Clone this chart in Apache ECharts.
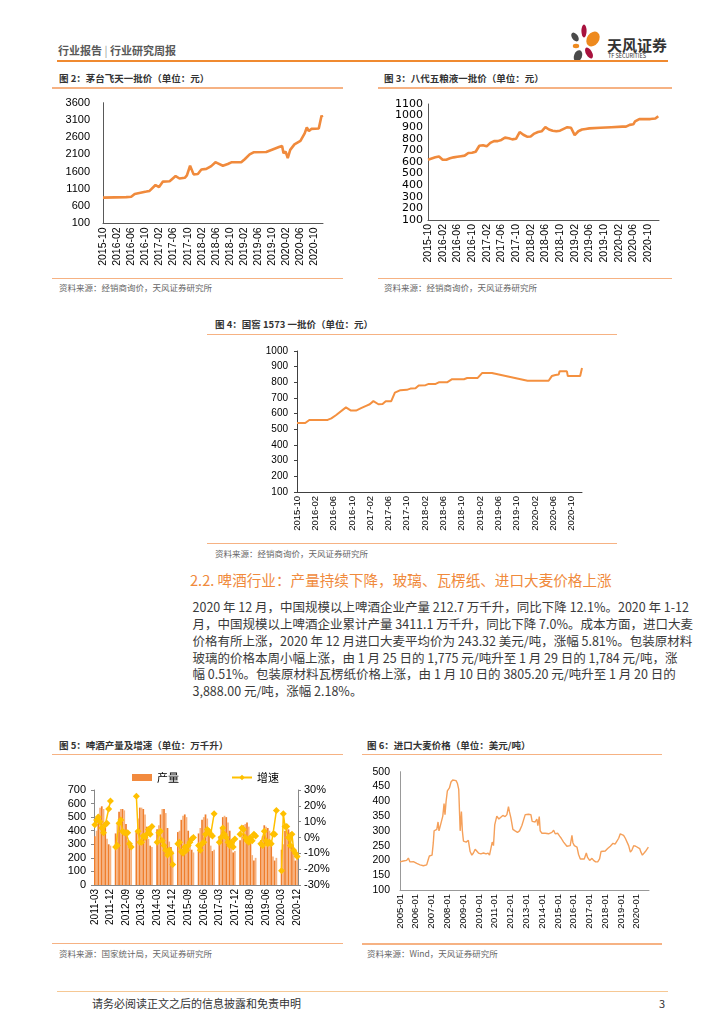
<!DOCTYPE html>
<html><head><meta charset="utf-8">
<script src="https://cdn.jsdelivr.net/npm/echarts@6/dist/echarts.min.js"></script>
<style>
html,body{margin:0;padding:0;background:#fff;}
body{width:724px;height:1024px;position:relative;overflow:hidden;font-family:"Noto Sans CJK SC","Liberation Sans",sans-serif;}
.t{position:absolute;white-space:nowrap;}
.title{position:absolute;font-size:9.5px;line-height:12px;font-weight:bold;color:#333;white-space:nowrap;}
.rule{position:absolute;height:1.5px;background:#F6B283;}
.src{position:absolute;font-size:8.5px;line-height:11px;color:#666;white-space:nowrap;}
.chart{position:absolute;}
.para{position:absolute;left:192.5px;top:599.3px;width:473px;font-size:12.5px;color:#3a3a3a;}
.para div{height:16.8px;line-height:16.8px;text-align:justify;text-align-last:justify;white-space:nowrap;overflow:visible;}
.para div.last{text-align-last:left;}
</style></head>
<body>
<!-- header -->
<div class="t" style="left:58px;top:43px;font-size:11px;line-height:14px;color:#595959;font-weight:bold;">行业报告 <span style="font-weight:normal;color:#999;">|</span> 行业研究周报</div>
<svg class="t" style="left:569px;top:24px;" width="36" height="40" viewBox="0 0 36 40">
  <ellipse cx="15" cy="7" rx="2.6" ry="6.5" fill="#A8123E"/>
  <ellipse cx="6" cy="13" rx="3" ry="5" fill="#4A4A4A" transform="rotate(-35 6 13)"/>
  <ellipse cx="24" cy="15" rx="6" ry="8" fill="#EE8A1E" transform="rotate(35 24 15)"/>
  <ellipse cx="7" cy="22" rx="3.2" ry="2.2" fill="#EE8A1E"/>
  <ellipse cx="9" cy="32" rx="4" ry="6" fill="#4A4A4A" transform="rotate(20 9 32)"/>
  <ellipse cx="20" cy="29" rx="3" ry="6" fill="#A8123E" transform="rotate(-30 20 29)"/>
</svg>
<div class="t" style="left:607px;top:36px;font-size:15px;line-height:18px;font-weight:bold;color:#333;">天风证券</div>
<div class="t" style="left:608px;top:53px;font-size:5.5px;line-height:7px;color:#333;">TF SECURITIES</div>
<div class="rule" style="left:57px;top:60px;width:611px;background:#F08A30;"></div>

<!-- chart 2 -->
<div class="title" style="left:59px;top:72px;">图 2：茅台飞天一批价（单位：元）</div>
<div class="rule" style="left:52px;top:87px;width:291px;"></div>
<div id="c2" class="chart" style="left:52px;top:89px;width:291px;height:188px;"></div>
<div class="rule" style="left:52px;top:277.5px;width:291px;"></div>
<div class="src" style="left:59px;top:281.5px;">资料来源：经销商询价，天风证券研究所</div>

<!-- chart 3 -->
<div class="title" style="left:384px;top:72px;">图 3：八代五粮液一批价（单位：元）</div>
<div class="rule" style="left:378px;top:87px;width:294px;"></div>
<div id="c3" class="chart" style="left:378px;top:89px;width:294px;height:188px;"></div>
<div class="rule" style="left:378px;top:277.5px;width:294px;"></div>
<div class="src" style="left:384px;top:281.5px;">资料来源：经销商询价，天风证券研究所</div>

<!-- chart 4 -->
<div class="title" style="left:215px;top:318px;">图 4：国窖 1573 一批价（单位：元）</div>
<div class="rule" style="left:207px;top:333.5px;width:410px;"></div>
<div id="c4" class="chart" style="left:207px;top:336px;width:410px;height:206px;"></div>
<div class="rule" style="left:207px;top:542.5px;width:410px;"></div>
<div class="src" style="left:215px;top:547.5px;">资料来源：经销商询价，天风证券研究所</div>

<!-- text -->
<div class="t" style="left:190px;top:570px;font-size:14.6px;line-height:20px;color:#F08A3C;">2.2. 啤酒行业：产量持续下降，玻璃、瓦楞纸、进口大麦价格上涨</div>
<div class="para">
<div>2020 年 12 月，中国规模以上啤酒企业产量 212.7 万千升，同比下降 12.1%。2020 年 1-12</div>
<div>月，中国规模以上啤酒企业累计产量 3411.1 万千升，同比下降 7.0%。成本方面，进口大麦</div>
<div>价格有所上涨，2020 年 12 月进口大麦平均价为 243.32 美元/吨，涨幅 5.81%。包装原材料</div>
<div>玻璃的价格本周小幅上涨，由 1 月 25 日的 1,775 元/吨升至 1 月 29 日的 1,784 元/吨，涨</div>
<div>幅 0.51%。包装原材料瓦楞纸价格上涨，由 1 月 10 日的 3805.20 元/吨升至 1 月 20 日的</div>
<div class="last">3,888.00 元/吨，涨幅 2.18%。</div>
</div>

<!-- chart 5 -->
<div class="title" style="left:59px;top:739px;">图 5：啤酒产量及增速（单位：万千升）</div>
<div class="rule" style="left:52px;top:753.5px;width:291px;"></div>
<div id="c5" class="chart" style="left:52px;top:756px;width:291px;height:186px;"></div>
<div class="rule" style="left:52px;top:942.5px;width:291px;"></div>
<div class="src" style="left:59px;top:947.5px;">资料来源：国家统计局，天风证券研究所</div>

<!-- chart 6 -->
<div class="title" style="left:367px;top:739px;">图 6：进口大麦价格（单位：美元/吨）</div>
<div class="rule" style="left:362px;top:753.5px;width:300px;"></div>
<div id="c6" class="chart" style="left:362px;top:756px;width:300px;height:187px;"></div>
<div class="rule" style="left:362px;top:943px;width:300px;"></div>
<div class="src" style="left:367px;top:947.5px;">资料来源：Wind，天风证券研究所</div>

<!-- footer -->
<div class="rule" style="left:57px;top:990.5px;width:611px;background:#F6C894;"></div>
<div class="t" style="left:92px;top:996px;font-size:11px;line-height:14px;color:#333;">请务必阅读正文之后的信息披露和免责申明</div>
<div class="t" style="left:659px;top:996px;font-size:11px;line-height:14px;color:#333;">3</div>

<script>
// ---------- data ----------
// 图2 茅台飞天一批价
const maotaiDates = ['2015-10-01','2016-04-19','2016-06-01','2016-07-01','2016-10-10','2016-11-07','2016-12-28','2017-01-28','2017-03-01','2017-04-28','2017-05-25','2017-06-19','2017-07-22','2017-09-07','2017-09-25','2017-10-22','2017-11-22','2017-12-28','2018-01-28','2018-03-10','2018-04-22','2018-05-28','2018-06-19','2018-08-01','2018-09-13','2018-10-13','2019-01-07','2019-02-07','2019-03-19','2019-04-22','2019-08-10','2019-12-04','2019-12-25','2020-01-07','2020-01-25','2020-02-13','2020-03-04','2020-04-10','2020-06-01','2020-07-07','2020-07-25','2020-08-13','2020-09-04','2020-11-07','2020-11-19','2020-12-01','2020-12-07'];
const maotaiPrice = [845,860,870,950,1020,1040,1210,1150,1310,1320,1400,1470,1400,1420,1490,1770,1520,1530,1660,1680,1760,1870,1840,1770,1820,1870,1870,1960,2100,2160,2170,2320,2340,2130,2180,1990,2230,2390,2490,2710,2880,2780,2840,2850,2830,3230,3180];

// 图3 八代五粮液一批价
const wlyDates = ['2015-10','2015-11','2015-12','2016-01','2016-02','2016-03','2016-04','2016-05','2016-06','2016-07','2016-08','2016-09','2016-10','2016-11','2016-12','2017-01','2017-02','2017-03','2017-04','2017-05','2017-06','2017-07','2017-08','2017-09','2017-10','2017-11','2017-12','2018-01','2018-02','2018-03','2018-04','2018-05','2018-06','2018-07','2018-08','2018-09','2018-10','2018-11','2018-12','2019-01','2019-02','2019-03','2019-04','2019-05','2019-06','2019-09','2019-12','2020-03','2020-04','2020-05','2020-06','2020-06-15','2020-07','2020-07-20','2020-10','2020-10-10','2020-10-20','2020-12','2020-12-25'];
const wlyPrice = [620,630,640,648,620,620,632,640,645,650,655,678,680,688,740,745,735,765,780,780,790,810,805,795,800,858,835,818,820,845,858,865,900,880,870,865,870,885,900,895,832,865,880,885,890,895,900,905,905,920,925,950,950,970,970,958,970,975,995];

// 图4 国窖1573一批价
const gjDates = ['2015-10-01','2015-11-25','2015-12-22','2016-04-22','2016-05-16','2016-06-16','2016-08-22','2016-09-25','2016-10-28','2016-12-01','2017-01-04','2017-01-28','2017-02-22','2017-03-25','2017-04-22','2017-05-13','2017-06-19','2017-07-13','2017-08-19','2017-10-01','2017-10-25','2017-11-28','2017-12-19','2018-02-04','2018-02-25','2018-04-10','2018-05-01','2018-06-25','2018-07-28','2018-10-16','2018-11-07','2019-01-16','2019-02-16','2019-04-19','2019-12-13','2020-05-01','2020-05-22','2020-06-16','2020-07-07','2020-07-13','2020-09-01','2020-09-07','2020-11-28','2020-12-10'];
const gjPrice = [540,540,560,560,570,590,640,620,620,635,650,660,680,660,662,680,680,734,750,752,760,762,780,782,790,790,800,800,820,820,828,828,860,860,810,810,840,847,850,870,870,840,840,892];

// 图5 啤酒产量及增速（1、2月无单月数据）
const beerMonths = [];
for (let y = 2011; y <= 2020; y++) for (let m = 1; m <= 12; m++) { if (y === 2011 && m < 3) continue; beerMonths.push(y + '-' + String(m).padStart(2, '0')); }
const beerTickLabels = ['2011-03','2011-12','2012-09','2013-06','2014-03','2014-12','2015-09','2016-06','2017-03','2017-12','2018-09','2019-06','2020-03','2020-12'];
const beerOutput = [
  360,400,520,570,580,560,440,340,300,290,
  null,null,380,450,540,560,560,550,450,330,290,270,
  null,null,400,490,570,570,560,520,430,340,290,280,
  null,null,410,440,520,560,560,530,420,320,280,250,
  null,null,390,400,480,510,520,500,400,300,260,240,
  null,null,380,420,480,500,520,490,370,290,250,260,
  null,null,360,420,500,510,500,460,400,290,240,250,
  null,null,330,380,440,450,460,430,340,220,180,200,
  null,null,330,360,440,430,420,400,300,210,180,200,
  null,null,260,300,400,420,410,390,300,230,180,213
];
const beerGrowth = [
  8,11,13,10,6,3,8,9,18,23,
  null,null,-6,-5,9,11,4,3,3,3,-4,-6,
  null,null,26,4,-3,-3,1,0,2,5,2,7,
  null,null,-3,3,4,-2,-5,-8,-11,-8,-10,-17,
  null,null,-4,-3,-9,-10,-6,-8,-5,-3,-1,0,
  null,null,-5,-8,-4,-3,2,5,4,2,1,15,
  null,null,-3,0,6,2,0,-3,-5,-3,-6,-1,
  null,null,2,6,5,0,-2,-3,0,-2,2,1,
  null,null,-4,-5,4,-2,-4,-3,-4,2,2,17,
  null,null,-21,15,7,7,0,-5,2,-8,-10,-12
];

// 图6 进口大麦价格（时间：年份小数）
const barleyTime = [2005.00,2005.21,2005.42,2005.53,2005.63,2005.85,2006.06,2006.27,2006.48,2006.59,2006.69,2006.80,2006.86,2006.95,2007.03,2007.11,2007.16,2007.24,2007.33,2007.41,2007.47,2007.58,2007.71,2007.79,2007.85,2007.92,2008.00,2008.13,2008.23,2008.34,2008.45,2008.55,2008.64,2008.72,2008.81,2008.89,2008.95,2009.02,2009.19,2009.33,2009.44,2009.55,2009.65,2009.76,2009.86,2009.97,2010.12,2010.29,2010.45,2010.58,2010.67,2010.75,2010.84,2010.92,2011.00,2011.13,2011.26,2011.34,2011.51,2011.66,2011.77,2011.87,2011.93,2012.02,2012.15,2012.29,2012.44,2012.57,2012.72,2012.82,2012.93,2013.14,2013.29,2013.37,2013.46,2013.56,2013.67,2013.73,2013.82,2013.88,2013.99,2014.20,2014.41,2014.62,2014.73,2014.83,2014.98,2015.11,2015.21,2015.36,2015.47,2015.57,2015.68,2015.78,2015.89,2015.95,2016.04,2016.21,2016.31,2016.42,2016.52,2016.67,2016.80,2016.88,2017.01,2017.16,2017.26,2017.39,2017.52,2017.64,2017.73,2017.85,2018.00,2018.15,2018.32,2018.49,2018.62,2018.70,2018.85,2018.95,2019.06,2019.16,2019.27,2019.38,2019.48,2019.59,2019.69,2019.80,2019.93,2020.05,2020.18,2020.26,2020.35,2020.43,2020.54,2020.64,2020.73];
const barleyPrice = [195,198,200,208,195,196,190,185,182,178,185,205,215,210,218,260,300,295,305,330,300,305,350,392,355,400,435,445,465,472,468,470,460,440,300,365,300,265,262,268,230,218,225,238,232,225,222,225,222,225,218,222,262,250,320,350,340,335,352,348,355,382,365,345,305,300,295,300,318,312,355,356,355,332,335,330,340,318,348,300,292,292,290,295,302,290,292,282,275,262,265,248,242,250,285,260,250,245,220,205,200,205,225,210,200,207,200,195,195,205,230,235,232,240,248,258,255,262,275,290,292,285,275,270,250,228,235,250,248,245,240,228,218,220,230,232,245];

const yTicks2 = [100, 3600, 500];   // min, max, step
const yTicks3 = [100, 1100, 100];
const yTicks4 = [100, 1000, 100];
const yTicks6 = [100, 500, 50];

// ---------- helpers ----------
function monthIdx(s) { // months since 2015-10
  const p = s.split('-').map(Number);
  return (p[0] - 2015) * 12 + (p[1] - 10) + ((p[2] || 1) - 1) / 30;
}
function monthLabel(v) {
  const k = Math.round(v);
  if (Math.abs(v - k) > 1e-6 || k % 4 !== 0) return '';
  const y = 2015 + Math.floor((9 + k) / 12), m = (9 + k) % 12 + 1;
  return y + '-' + String(m).padStart(2, '0');
}
const plain = v => String(Math.round(v * 1000) / 1000);
const NUM = 'Liberation Sans';

function priceOption(o) {
  return {
    animation: false,
    grid: o.grid,
    xAxis: {
      type: 'value', min: 0, max: o.xmax, interval: 4,
      axisLine: { show: true, onZero: false, lineStyle: { color: o.axisColor, width: 1 } },
      axisTick: { show: false }, splitLine: { show: false },
      axisLabel: { rotate: 90, fontSize: o.xfs, lineHeight: o.xfs, color: '#000', fontFamily: NUM, margin: 4, formatter: monthLabel, showMaxLabel: false, hideOverlap: false }
    },
    yAxis: {
      type: 'value', min: o.y[0], max: o.y[1], interval: o.y[2],
      axisLine: { show: true, lineStyle: { color: o.axisColor, width: 1 } },
      axisTick: { show: o.ytick, length: 3, lineStyle: { color: o.axisColor } }, splitLine: { show: false },
      axisLabel: { fontSize: o.yfs, lineHeight: o.ylh || o.yfs, color: '#000', fontFamily: o.yfont || NUM, margin: o.ymargin, formatter: plain, hideOverlap: false, showMinLabel: true, showMaxLabel: true }
    },
    series: [{
      type: 'line', data: o.dates.map((d, i) => [monthIdx(d), o.vals[i]]),
      symbol: 'none', lineStyle: { color: o.color, width: o.lw }, itemStyle: { color: o.color }
    }]
  };
}

echarts.init(document.getElementById('c2')).setOption(priceOption({
  grid: { left: 51, top: 13.7, width: 220, height: 120.6 }, xmax: 62.4,
  y: yTicks2, dates: maotaiDates, vals: maotaiPrice, axisColor: '#595959',
  xfs: 10.5, yfs: 11, ymargin: 13, ytick: false, color: '#F08A3C', lw: 2.6
}));
echarts.init(document.getElementById('c3')).setOption(priceOption({
  grid: { left: 50, top: 15, width: 231, height: 116 }, xmax: 63,
  y: yTicks3, dates: wlyDates, vals: wlyPrice, axisColor: '#595959',
  xfs: 10.5, yfs: 11, ylh: 8, yfont: 'DejaVu Sans', ymargin: 5, ytick: false, color: '#F08A3C', lw: 2.6
}));
echarts.init(document.getElementById('c4')).setOption(priceOption({
  grid: { left: 90, top: 15, width: 285, height: 141 }, xmax: 62.3,
  y: yTicks4, dates: gjDates, vals: gjPrice, axisColor: '#404040',
  xfs: 9.5, yfs: 10, ymargin: 9, ytick: true, color: '#F4903F', lw: 2
}));

// chart 5
echarts.init(document.getElementById('c5')).setOption({
  animation: false,
  grid: { left: 42, top: 34, width: 204, height: 95 },
  legend: {
    left: 75, top: 11, itemWidth: 20, itemHeight: 7, itemGap: 52,
    textStyle: { fontSize: 11, color: '#000', fontFamily: 'Noto Sans CJK SC' },
    data: [{ name: '产量', icon: 'rect', itemStyle: { color: '#F28A3E' } }, { name: '增速' }]
  },
  xAxis: {
    type: 'category', data: beerMonths,
    axisLine: { lineStyle: { color: '#888' } }, axisTick: { show: false },
    axisLabel: { interval: 0, customValues: beerTickLabels, rotate: 90, fontSize: 10, lineHeight: 8, color: '#000', fontFamily: NUM, margin: 4, hideOverlap: false }
  },
  yAxis: [{
    type: 'value', min: 0, max: 700, interval: 100,
    axisLine: { show: true, lineStyle: { color: '#888' } }, axisTick: { show: true, length: 3 }, splitLine: { show: false },
    axisLabel: { fontSize: 11, color: '#000', fontFamily: NUM, margin: 8, formatter: plain }
  }, {
    type: 'value', min: -30, max: 30, interval: 10, position: 'right',
    axisLine: { show: true, lineStyle: { color: '#888' } }, axisTick: { show: true, length: 3 }, splitLine: { show: false },
    axisLabel: { fontSize: 11, color: '#000', fontFamily: NUM, margin: 6, formatter: v => plain(v) + '%' }
  }],
  series: [{
    name: '产量', type: 'bar', data: beerOutput, barCategoryGap: '0%',
    itemStyle: { color: p => (p.dataIndex % 2 ? '#F7B27F' : '#EF7E2C') }
  }, {
    name: '增速', type: 'line', yAxisIndex: 1, data: beerGrowth, connectNulls: false,
    symbol: 'diamond', symbolSize: 7, showSymbol: true, showAllSymbol: true,
    lineStyle: { color: '#FFC000', width: 1.5 }, itemStyle: { color: '#FFC000' }
  }]
});

// chart 6
echarts.init(document.getElementById('c6')).setOption({
  animation: false,
  grid: { left: 38, top: 15.7, width: 249, height: 118.3 },
  xAxis: {
    type: 'value', min: 2005, max: 2020.77, interval: 1,
    axisLine: { show: true, onZero: false, lineStyle: { color: '#999' } }, axisTick: { show: false }, splitLine: { show: false },
    axisLabel: { rotate: 90, fontSize: 9.5, lineHeight: 9, color: '#000', fontFamily: NUM, margin: 4, showMaxLabel: false, hideOverlap: false,
      formatter: v => (Number.isInteger(v) ? v + '-01' : '') }
  },
  yAxis: {
    type: 'value', min: yTicks6[0], max: yTicks6[1], interval: yTicks6[2],
    axisLine: { show: true, lineStyle: { color: '#999' } }, axisTick: { show: false }, splitLine: { show: false },
    axisLabel: { fontSize: 10.5, color: '#000', fontFamily: NUM, margin: 10, formatter: plain }
  },
  series: [{
    type: 'line', data: barleyTime.map((t, i) => [t, barleyPrice[i]]),
    symbol: 'none', lineStyle: { color: '#F5A05A', width: 1.4 }
  }]
});
</script>
</body></html>
